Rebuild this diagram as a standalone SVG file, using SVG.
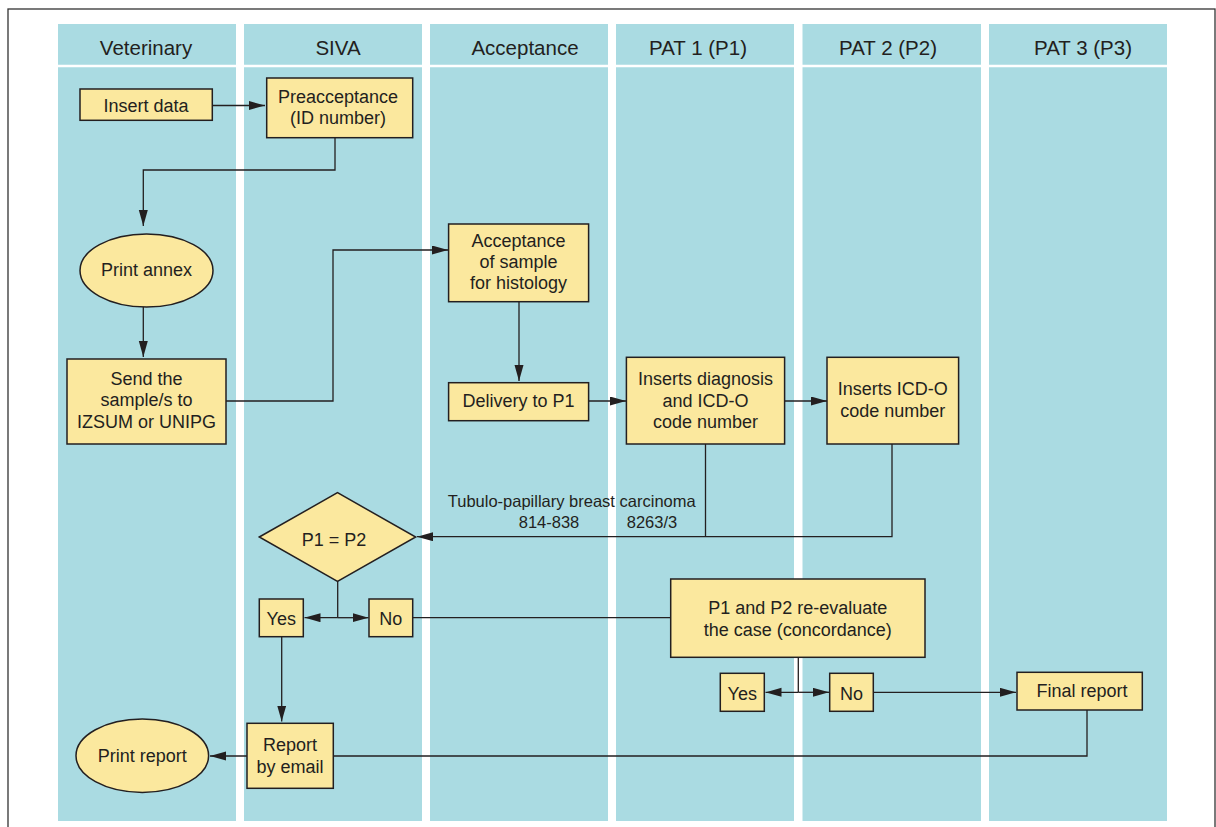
<svg xmlns="http://www.w3.org/2000/svg" width="1216" height="827" viewBox="0 0 1216 827">
<style>
.lane{fill:#aadbe2}
.sep{stroke:#ffffff;stroke-width:2.5}
.hdr{font-family:"Liberation Sans",Arial,sans-serif;font-size:20.5px;fill:#231f20;text-anchor:middle}
.box{fill:#fbe89e;stroke:#231f20;stroke-width:1.5}
.t{font-family:"Liberation Sans",Arial,sans-serif;font-size:18px;fill:#231f20;text-anchor:middle}
.lbl{font-family:"Liberation Sans",Arial,sans-serif;font-size:16.5px;fill:#231f20;text-anchor:middle}
.c{fill:none;stroke:#231f20;stroke-width:1.3}
.a{marker-end:url(#ah)}
</style>
<defs>
<marker id="ah" markerUnits="userSpaceOnUse" markerWidth="16" markerHeight="10" refX="16" refY="4.5" orient="auto">
<path d="M0,0 L16,4.5 L0,9 z" fill="#231f20"/>
</marker>
</defs>
<rect x="0" y="0" width="1216" height="827" fill="#ffffff"/>
<rect x="8" y="9" width="1207" height="830" fill="#ffffff" stroke="#333333" stroke-width="1.3"/>
<g id="lanes">
<rect class="lane" x="58" y="24" width="178" height="797"/>
<rect class="lane" x="244" y="24" width="178" height="797"/>
<rect class="lane" x="430" y="24" width="178" height="797"/>
<rect class="lane" x="616" y="24" width="178" height="797"/>
<rect class="lane" x="802.5" y="24" width="178.5" height="797"/>
<rect class="lane" x="989" y="24" width="178" height="797"/>
<line class="sep" x1="58" y1="66" x2="1167" y2="66"/>
<text class="hdr" x="146" y="55">Veterinary</text>
<text class="hdr" x="338" y="55">SIVA</text>
<text class="hdr" x="525" y="55">Acceptance</text>
<text class="hdr" x="698" y="55">PAT 1 (P1)</text>
<text class="hdr" x="888" y="55">PAT 2 (P2)</text>
<text class="hdr" x="1083" y="55">PAT 3 (P3)</text>
</g>
<g id="connectors">
<path class="c a" d="M212.3,105.5 H265"/>
<path class="c a" d="M335,137.7 V170 H143.3 V226"/>
<path class="c a" d="M143.3,307 V357"/>
<path class="c a" d="M226,401 H333 V250 H448"/>
<path class="c a" d="M519,301.7 V381"/>
<path class="c a" d="M588.6,401 H626"/>
<path class="c a" d="M784.6,401 H827"/>
<path class="c" d="M705.5,444 V536.7"/>
<path class="c a" d="M892,444 V536.7 H417"/>
<path class="c" d="M337.7,581.3 V617.7"/>
<path class="c a" d="M337.7,617.7 H304.5"/>
<path class="c a" d="M337.7,617.7 H368.5"/>
<path class="c" d="M412.7,617.7 H670.7"/>
<path class="c a" d="M281.7,636.7 V721.5"/>
<path class="c a" d="M247,756 H210"/>
<path class="c" d="M1087,710 V756 H333.3"/>
<path class="c" d="M798.3,657.3 V692.3"/>
<path class="c a" d="M798.3,692.3 H765.5"/>
<path class="c a" d="M798.3,692.3 H829"/>
<path class="c a" d="M873.3,692.3 H1016"/>
</g>
<g id="n-insert-data">
<rect class="box" x="80" y="89" width="132.3" height="31.3"/>
<text class="t" x="146" y="111.5">Insert data</text>
</g>
<g id="n-preacceptance">
<rect class="box" x="266.7" y="78" width="146" height="59.7"/>
<text class="t" x="338" y="102.5">Preacceptance</text>
<text class="t" x="338" y="124">(ID number)</text>
</g>
<g id="n-print-annex">
<ellipse class="box" cx="146.5" cy="270.5" rx="66.5" ry="36.5"/>
<text class="t" x="146.5" y="275.5">Print annex</text>
</g>
<g id="n-send">
<rect class="box" x="67" y="359" width="159" height="85"/>
<text class="t" x="146.5" y="384.5">Send the</text>
<text class="t" x="146.5" y="406">sample/s to</text>
<text class="t" x="146.5" y="427.5">IZSUM or UNIPG</text>
</g>
<g id="n-acceptance">
<rect class="box" x="448.6" y="224" width="140" height="77.7"/>
<text class="t" x="518.6" y="246.7">Acceptance</text>
<text class="t" x="518.6" y="268">of sample</text>
<text class="t" x="518.6" y="289.3">for histology</text>
</g>
<g id="n-delivery">
<rect class="box" x="448.6" y="382.7" width="140" height="38"/>
<text class="t" x="518.6" y="407.3">Delivery to P1</text>
</g>
<g id="n-inserts-diagnosis">
<rect class="box" x="626.4" y="357.3" width="158.2" height="86.7"/>
<text class="t" x="705.5" y="385">Inserts diagnosis</text>
<text class="t" x="705.5" y="406.5">and ICD-O</text>
<text class="t" x="705.5" y="428">code number</text>
</g>
<g id="n-inserts-icdo">
<rect class="box" x="827" y="357.3" width="131.6" height="86.7"/>
<text class="t" x="892.8" y="395">Inserts ICD-O</text>
<text class="t" x="892.8" y="416.5">code number</text>
</g>
<g id="l-tubulo">
<text class="lbl" x="571.7" y="506.7">Tubulo-papillary breast carcinoma</text>
<text class="lbl" x="549" y="528.3">814-838</text>
<text class="lbl" x="652" y="528.3">8263/3</text>
</g>
<g id="n-decision">
<polygon class="box" points="259.3,537 337.5,492.7 415.7,537 337.5,581.3"/>
<text class="t" x="334" y="546">P1 = P2</text>
</g>
<g id="n-yes1">
<rect class="box" x="259.3" y="599" width="44" height="37.7"/>
<text class="t" x="281.3" y="625">Yes</text>
</g>
<g id="n-no1">
<rect class="box" x="369" y="599" width="43.7" height="37.7"/>
<text class="t" x="390.8" y="625">No</text>
</g>
<g id="n-reevaluate">
<rect class="box" x="670.7" y="579" width="254.3" height="78.3"/>
<text class="t" x="797.8" y="614.3">P1 and P2 re-evaluate</text>
<text class="t" x="797.8" y="636">the case (concordance)</text>
</g>
<g id="n-yes2">
<rect class="box" x="720.3" y="673.3" width="44" height="38"/>
<text class="t" x="742.3" y="699.5">Yes</text>
</g>
<g id="n-no2">
<rect class="box" x="829.7" y="673.3" width="43.6" height="38"/>
<text class="t" x="851.5" y="699.5">No</text>
</g>
<g id="n-final-report">
<rect class="box" x="1017" y="672.3" width="125.3" height="37.7"/>
<text class="t" x="1082" y="697.3">Final report</text>
</g>
<g id="n-report-email">
<rect class="box" x="247" y="723.3" width="86.3" height="65"/>
<text class="t" x="290" y="751">Report</text>
<text class="t" x="290" y="772.7">by email</text>
</g>
<g id="n-print-report">
<ellipse class="box" cx="142.3" cy="755.7" rx="66.3" ry="36.7"/>
<text class="t" x="142.3" y="761.7">Print report</text>
</g>
</svg>
